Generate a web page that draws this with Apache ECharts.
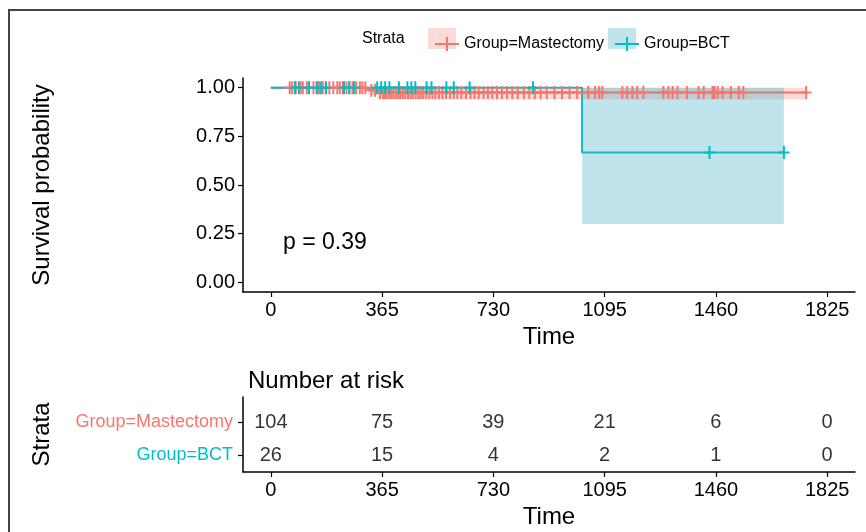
<!DOCTYPE html>
<html><head><meta charset="utf-8">
<script src="https://cdn.jsdelivr.net/npm/echarts@6/dist/echarts.min.js"></script>
<style>html,body{margin:0;padding:0;background:#fff}#c{width:866px;height:532px}</style>
</head><body><div id="c"></div>
<script>
// ---- data ----
const strata = ['Group=Mastectomy', 'Group=BCT'];
const xTicks = [0, 365, 730, 1095, 1460, 1825];
const yTicks = [0, 0.25, 0.5, 0.75, 1];
// Mastectomy KM steps
const mastEventTimes = [320, 350];
const mastSurv = [0.987, 0.975];
const mastLower = [0.963, 0.940];
const mastUpper = [1.0, 1.0];
const mastEnd = 1756;
const mastCensor = [62, 70, 82, 98, 105, 118, 126, 140, 150, 158, 170, 180, 192, 205, 218, 226, 236, 248, 258, 268, 280, 292, 300, 310, 330, 342, 358,
  368, 374, 380, 388, 395, 402, 410, 418, 425, 433, 441, 450, 458, 466, 475, 484, 492, 500, 510, 520, 530, 540, 552, 563, 575, 588, 600, 612, 625, 640, 655, 668, 682, 698, 712, 726,
  742, 758, 775, 792, 810, 830, 848, 866, 885, 905, 930, 955, 980, 1005, 1041, 1064, 1077, 1087,
  1153, 1169, 1186, 1202, 1222, 1288, 1304, 1318, 1334, 1365, 1403, 1420, 1449, 1453, 1456,
  1466, 1482, 1509, 1535, 1550, 1756];
// BCT KM steps
const bctEventTimes = [1021];
const bctSurv = [0.667];
const bctLower = [0.30];
const bctUpper = [1.0];
const bctEnd = 1683;
const bctCensor = [79, 92, 125, 152, 165, 181, 240, 257, 273, 349, 362,
  375, 389, 420, 448, 461, 474, 511, 527, 576, 600, 652,
  860, 1439, 1683];
// number at risk
const riskMast = [104, 75, 39, 21, 6, 0];
const riskBct = [26, 15, 4, 2, 1, 0];
const pText = 'p = 0.39';

const colM = '#F8766D', colB = '#00BFC4';
const fillM = 'rgba(240,110,100,0.25)', fillB = 'rgba(60,170,195,0.32)';
const FONT = '"Liberation Sans", Arial, sans-serif';

function steps(times, vals, end) {
  const d = [[0, 1]];
  times.forEach((t, i) => d.push([t, vals[i]]));
  d.push([end, vals[vals.length - 1]]);
  return d;
}
// ribbon segments: [x0, x1, lower, upper]
function segments(times, lo, hi, end) {
  return times.map((t, i) => [t, i + 1 < times.length ? times[i + 1] : end, lo[i], hi[i]]);
}
function survAt(times, vals, t) {
  let s = 1;
  times.forEach((et, i) => { if (et <= t) s = vals[i]; });
  return s;
}
function ribbon(name, data, fill) {
  return {
    name: name, type: 'custom', xAxisIndex: 0, yAxisIndex: 0, z: 3, silent: true,
    encode: {x: [0, 1], y: [2, 3]},
    data: data,
    renderItem: (params, api) => {
      const p0 = api.coord([api.value(0), api.value(3)]);
      const p1 = api.coord([api.value(1), api.value(2)]);
      return {type: 'rect', shape: {x: p0[0], y: p0[1], width: p1[0] - p0[0], height: p1[1] - p0[1]},
        style: {fill: fill}};
    }
  };
}
const plusPath = 'path://M0,5.5h11v2h-11z M4.5,0h2v13h-2z';

const chart = echarts.init(document.getElementById('c'), null, {renderer: 'canvas'});

function xAxisCfg(gi) {
  return {
    gridIndex: gi, type: 'value', min: -91.25, max: 1916.25,
    axisLine: {onZero: false, lineStyle: {color: '#000', width: 1.5}},
    axisTick: {customValues: xTicks, length: 5, lineStyle: {color: '#000', width: 1.2}},
    axisLabel: {customValues: xTicks, fontSize: 20, color: '#000', margin: 8, fontFamily: FONT, formatter: v => String(v)},
    splitLine: {show: false},
    name: 'Time', nameLocation: 'middle', nameGap: 33,
    nameTextStyle: {fontSize: 24, color: '#000', fontFamily: FONT}
  };
}

const option = {
  animation: false,
  textStyle: {fontFamily: FONT},
  title: {text: 'Number at risk', left: 243, top: 364,
    textStyle: {fontSize: 24, fontWeight: 'normal', color: '#000', fontFamily: FONT}},
  legend: {
    left: 430, top: 31, itemWidth: 24, itemHeight: 14, itemGap: 11,
    textStyle: {fontSize: 16, color: '#000', fontFamily: FONT},
    data: [
      {name: strata[0], icon: 'path://M0,6h24v2h-24z M11,0h2v14h-2z', itemStyle: {color: colM}},
      {name: strata[1], icon: 'path://M0,6h24v2h-24z M11,0h2v14h-2z', itemStyle: {color: colB}}
    ]
  },
  graphic: [
    {type: 'rect', z: -10, shape: {x: 9, y: 10, width: 900, height: 560}, style: {fill: 'none', stroke: '#444', lineWidth: 2}},
    {type: 'rect', z: 0, shape: {x: 428, y: 28, width: 28, height: 21}, style: {fill: fillM}},
    {type: 'rect', z: 0, shape: {x: 608, y: 28, width: 28, height: 21}, style: {fill: fillB}},
    {type: 'text', left: 362, top: 31, style: {text: 'Strata', fill: '#000', font: '16px ' + FONT}},
    {type: 'text', left: 283, top: 231, style: {text: pText, fill: '#000', font: '23px ' + FONT}}
  ],
  grid: [
    {left: 243, top: 78, width: 612, height: 214},
    {left: 243, top: 397, width: 612, height: 75}
  ],
  xAxis: [xAxisCfg(0), xAxisCfg(1)],
  yAxis: [
    {gridIndex: 0, type: 'value', min: -0.05, max: 1.05,
      axisLine: {onZero: false, show: true, lineStyle: {color: '#000', width: 1.5}},
      axisTick: {show: true, customValues: yTicks, length: 5, lineStyle: {color: '#000', width: 1.2}},
      axisLabel: {customValues: yTicks, fontSize: 20, color: '#000', margin: 8, formatter: v => v.toFixed(2), fontFamily: FONT},
      splitLine: {show: false},
      name: 'Survival probability', nameLocation: 'middle', nameGap: 189,
      nameTextStyle: {fontSize: 24, color: '#000', fontFamily: FONT}},
    {gridIndex: 1, type: 'value', min: 0.5, max: 2.75,
      axisLine: {onZero: false, show: true, lineStyle: {color: '#000', width: 1.5}},
      axisTick: {show: true, customValues: [1, 2], length: 5, lineStyle: {color: '#000', width: 1.2}},
      axisLabel: {customValues: [1, 2], margin: 10,
        formatter: v => v === 2 ? '{m|' + strata[0] + '}' : '{b|' + strata[1] + '}',
        rich: {m: {color: colM, fontSize: 18, fontFamily: FONT}, b: {color: colB, fontSize: 18, fontFamily: FONT}}},
      splitLine: {show: false},
      name: 'Strata', nameLocation: 'middle', nameGap: 189,
      nameTextStyle: {fontSize: 24, color: '#000', fontFamily: FONT}}
  ],
  series: [
    // lines
    {name: strata[0], type: 'line', step: 'end', xAxisIndex: 0, yAxisIndex: 0, z: 2,
      data: steps(mastEventTimes, mastSurv, mastEnd), showSymbol: false, symbol: 'none',
      lineStyle: {color: colM, width: 2}, itemStyle: {color: colM}},
    {name: strata[1], type: 'line', step: 'end', xAxisIndex: 0, yAxisIndex: 0, z: 2,
      data: steps(bctEventTimes, bctSurv, bctEnd), showSymbol: false, symbol: 'none',
      lineStyle: {color: colB, width: 2}, itemStyle: {color: colB}},
    // ribbons (confidence intervals)
    ribbon('m_ci', segments(mastEventTimes, mastLower, mastUpper, mastEnd), fillM),
    ribbon('b_ci', segments(bctEventTimes, bctLower, bctUpper, bctEnd), fillB),
    // censor marks
    {name: 'm_cens', type: 'scatter', z: 4, symbol: plusPath, symbolSize: [11, 13],
      itemStyle: {color: colM, opacity: 1},
      data: mastCensor.map(t => [t, survAt(mastEventTimes, mastSurv, t)])},
    {name: 'b_cens', type: 'scatter', z: 4, symbol: plusPath, symbolSize: [11, 13],
      itemStyle: {color: colB, opacity: 1},
      data: bctCensor.map(t => [t, survAt(bctEventTimes, bctSurv, t)])},
    // risk table
    {name: 'risk', type: 'scatter', xAxisIndex: 1, yAxisIndex: 1, symbolSize: 1,
      itemStyle: {color: 'rgba(0,0,0,0)'},
      label: {show: true, position: 'inside', formatter: p => String(p.value[2]), fontSize: 20, color: '#000', fontFamily: FONT},
      data: xTicks.map((t, i) => [t, 2, riskMast[i]]).concat(xTicks.map((t, i) => [t, 1, riskBct[i]]))}
  ]
};
chart.setOption(option);
</script>
</body></html>
